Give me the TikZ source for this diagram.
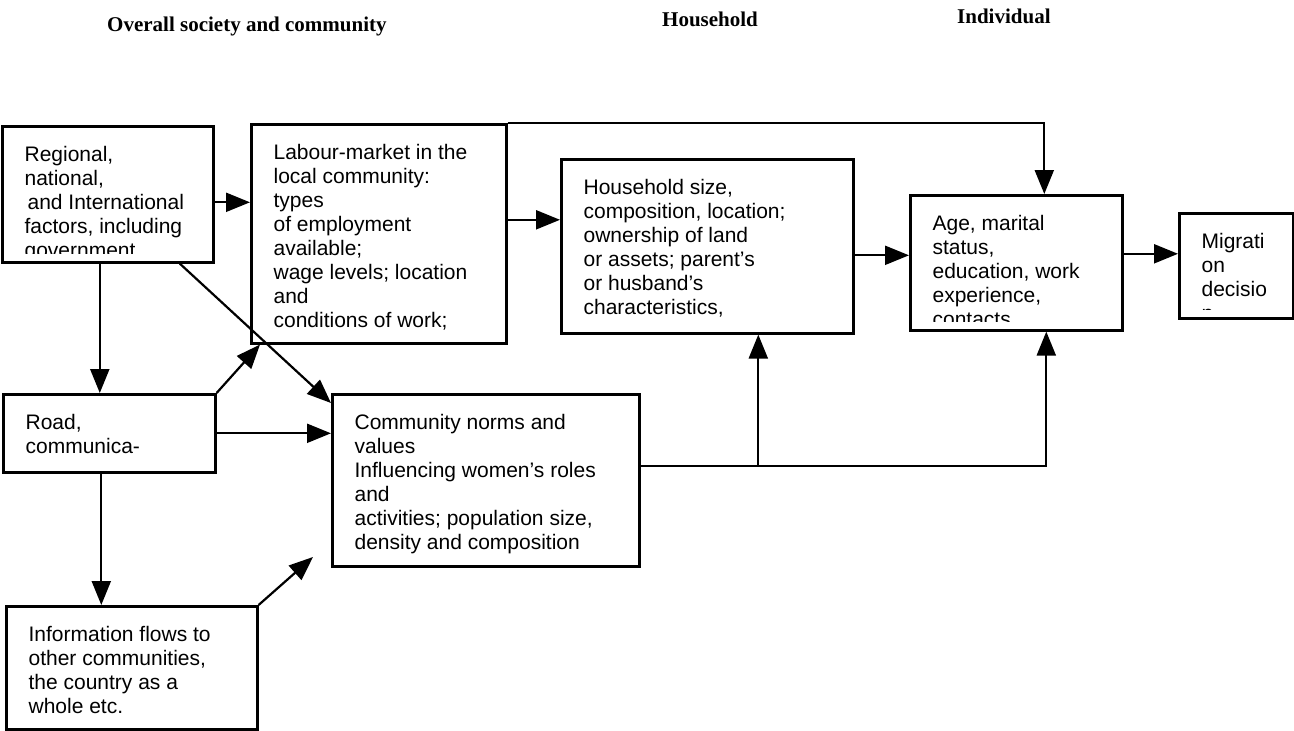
\documentclass[tikz,border=0pt]{standalone}
\usepackage{fontspec}
\usetikzlibrary{arrows.meta}
\newfontfamily\boxfont{Liberation Sans}
\newfontfamily\headfont{Liberation Serif}

\tikzset{
  box/.style={draw, line width=2.6pt, inner sep=0pt, anchor=north west},
  boxtext/.style={draw=none, anchor=north west, inner sep=0pt, minimum width=0pt, minimum height=0pt,
    align=left, font=\boxfont\fontsize{21}{24}\selectfont},
  head/.style={anchor=base west, inner sep=0pt, font=\headfont\bfseries\fontsize{21}{24}\selectfont},
  arr/.style={line width=2.2pt, -{Triangle[length=24pt,width=19pt]}},
}

% box with its text cut off at the bottom edge
\newcommand{\cutbox}[6]{%
  \node[box, minimum width=#4pt, minimum height=#5pt,
    path picture={
      \clip ([yshift=9pt]path picture bounding box.south west) rectangle (path picture bounding box.north east);
      \node[boxtext] at ([xshift=21pt,yshift=-19pt]path picture bounding box.north west) {#6};
    }] (#1) at (#2,#3) {};}

\begin{document}
\begin{tikzpicture}[x=1pt,y=-1pt]
  \useasboundingbox (0,0) rectangle (1294,731);

  \node[head] (hsoc) at (107,31) {Overall society and community};
  \node[head] (hhou) at (662,26) {Household};
  \node[head] (hind) at (957,23) {Individual};

  \cutbox{reg}{1}{125}{211}{136}{Regional,\\ national,\\ \hspace{3pt}and International\\ factors, including\\ government}
  \cutbox{lab}{250}{123}{255}{219}{Labour-market in the\\ local community:\\ types\\ of employment\\ available;\\ wage levels; location\\ and\\ conditions of work;}
  \cutbox{road}{2}{393}{212}{78}{Road,\\ communica-}
  \cutbox{info}{5}{605}{251}{123}{Information flows to\\ other communities,\\ the country as a\\ whole etc.}
  \cutbox{comm}{331}{393}{307}{172}{Community norms and\\ values\\ Influencing women’s roles\\ and\\ activities; population size,\\ density and composition}
  \cutbox{hh}{560}{158}{292}{174}{Household size,\\ composition, location;\\ ownership of land\\ or assets; parent’s\\ or husband’s\\ characteristics,}
  \cutbox{age}{909}{194}{212}{135}{Age, marital\\ status,\\ education, work\\ experience,\\ contacts}
  \cutbox{mig}{1178}{212}{114}{105}{Migrati\\ on\\ decisio\\ n}

  \coordinate (infoend) at (313,557);

  \draw[arr] ([yshift=-8pt]reg.east) -- ([yshift=-8pt]reg.east -| lab.west);
  \draw[arr] ([xshift=-8pt]reg.south) -- ([xshift=-8pt]reg.south |- road.north);
  \draw[arr] ([xshift=72pt]reg.south) -- ([yshift=-10pt]comm.north west);
  \draw[arr] (road.north east) -- ([xshift=10pt]lab.south west);
  \draw[arr] (road.east) -- (road.east -| comm.west);
  \draw[arr] ([xshift=-8pt]road.south) -- ([xshift=-8pt]road.south |- info.north);
  \draw[arr] (info.north east) -- (infoend);
  \draw[arr] (lab.north east) -| ([xshift=28pt]age.north);
  \draw[arr] ([yshift=14pt]lab.east) -- ([yshift=14pt]lab.east -| hh.west);
  \draw[arr] ([yshift=-9pt]hh.east) -- ([yshift=-9pt]hh.east -| age.west);
  \draw[arr] ([yshift=9pt]age.east) -- ([yshift=9pt]age.east -| mig.west);
  \draw[arr] ([yshift=14pt]comm.east) -| ([xshift=30pt]age.south);
  \draw[arr] ([yshift=14pt]comm.east) -| ([xshift=51pt]hh.south);
\end{tikzpicture}
\end{document}
